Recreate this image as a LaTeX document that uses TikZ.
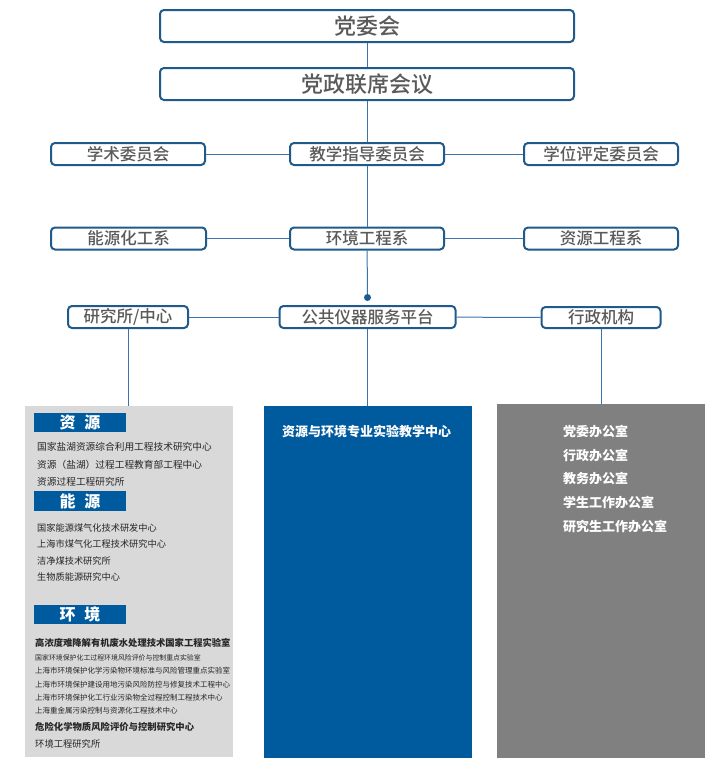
\documentclass[tikz,border=0pt]{standalone}
\usepackage{fontspec}
\setmainfont{Noto Sans CJK SC}
\newfontfamily\boxfont{Noto Sans CJK SC Medium}
\definecolor{boxline}{HTML}{1F5A8A}
\definecolor{connc}{HTML}{3A74AD}
\definecolor{boxtext}{HTML}{5A5A5A}
\definecolor{pblue}{HTML}{005A9E}
\definecolor{plgrey}{HTML}{D9D9D9}
\definecolor{pdgrey}{HTML}{808080}
\definecolor{itemtext}{HTML}{262626}
\begin{document}
\begin{tikzpicture}[x=1pt,y=-1pt,
  orgbox/.style={draw=boxline, line width=2pt, rounded corners=4pt, fill=white,
    text=boxtext, inner sep=0pt, minimum height=22pt,
    font=\boxfont\fontsize{16.5}{18}\selectfont},
  bigbox/.style={orgbox, minimum width=414pt, minimum height=32pt,
    font=\boxfont\fontsize{22}{24}\selectfont},
  conn/.style={draw=connc, line width=1pt},
  panel/.style={inner sep=0pt, anchor=north west},
  hdr/.style={fill=pblue, text=white, inner sep=0pt, minimum width=92pt,
    minimum height=19.5pt, font=\fontsize{16}{18}\selectfont\bfseries},
  item/.style={anchor=west, inner sep=0pt, text=itemtext},
  wtext/.style={anchor=west, inner sep=0pt, text=white,
    font=\fontsize{13}{15}\selectfont\bfseries}
]
\useasboundingbox (0,0) rectangle (724,771);

% top boxes
\node[bigbox] (dw) at (367,26) {党委会};
\node[bigbox] (dz) at (367,84) {党政联席会议};

% committee row
\node[orgbox, minimum width=154pt] (xs) at (128,154) {学术委员会};
\node[orgbox, minimum width=154pt] (jx) at (367,154) {教学指导委员会};
\node[orgbox, minimum width=154pt] (xw) at (601,154) {学位评定委员会};

% department row
\node[orgbox, minimum width=155pt] (nh) at (128.5,238.5) {能源化工系};
\node[orgbox, minimum width=154pt] (hj) at (367,238.5) {环境工程系};
\node[orgbox, minimum width=154pt] (zy) at (601,238.5) {资源工程系};

% platform row
\node[circle, fill=boxline, inner sep=0pt, minimum size=7pt] (dot) at (367.5,297.5) {};
\node[orgbox, minimum width=120pt] (ys) at (128,317) {研究所/中心};
\node[orgbox, minimum width=176pt] (gg) at (367.5,317) {公共仪器服务平台};
\node[orgbox, minimum width=119pt, minimum height=21pt] (xz) at (601,317.5) {行政机构};

% panels
\node[panel, fill=plgrey, minimum width=208pt, minimum height=351pt] (pg) at (25,406) {};
\node[panel, fill=pblue, minimum width=208pt, minimum height=352pt] (pb) at (264,406) {};
\node[panel, fill=pdgrey, minimum width=208pt, minimum height=354pt] (pd) at (497,404) {};

% connectors
\draw[conn] (dw) -- (dz);
\draw[conn] (dz) -- (jx);
\draw[conn] (xs) -- (jx);
\draw[conn] (jx) -- (xw);
\draw[conn] (jx) -- (hj);
\draw[conn] (nh) -- (hj);
\draw[conn] (hj) -- (zy);
\draw[conn] (hj) -- (dot);
\draw[conn] (ys) -- (gg);
\draw[conn] (gg) -- (xz);
\draw[conn] (ys) -- (ys |- pg.north);
\draw[conn] (gg) -- (gg |- pb.north);
\draw[conn] (xz) -- (xz |- pd.north);

% light grey panel content
\node[hdr] (h1) at (80,422.5) {资\hspace{9pt}源};
\node[item, font=\fontsize{9.7}{11}\selectfont] (a1) at (37,446.5) {国家盐湖资源综合利用工程技术研究中心};
\node[item, font=\fontsize{9.7}{11}\selectfont] (a2) at (37,464.5) {资源（盐湖）过程工程教育部工程中心};
\node[item, font=\fontsize{9.7}{11}\selectfont] (a3) at (37,482) {资源过程工程研究所};

\node[hdr] (h2) at (80,501) {能\hspace{9pt}源};
\node[item, font=\fontsize{9.2}{11}\selectfont] (b1) at (37,527.5) {国家能源煤气化技术研发中心};
\node[item, font=\fontsize{9.2}{11}\selectfont] (b2) at (37,544) {上海市煤气化工程技术研究中心};
\node[item, font=\fontsize{9.2}{11}\selectfont] (b3) at (37,561) {洁净煤技术研究所};
\node[item, font=\fontsize{9.2}{11}\selectfont] (b4) at (37,577) {生物质能源研究中心};

\node[hdr] (h3) at (80,614.5) {环\hspace{9pt}境};
\node[item, font=\fontsize{9.3}{11}\selectfont\bfseries] (c1) at (35,642.5) {高浓度难降解有机废水处理技术国家工程实验室};
\node[item, font=\fontsize{6.9}{8}\selectfont] (c2) at (35,657.5) {国家环境保护化工过程环境风险评价与控制重点实验室};
\node[item, font=\fontsize{7.5}{8}\selectfont] (c3) at (35,671) {上海市环境保护化学污染物环境标准与风险管理重点实验室};
\node[item, font=\fontsize{7.5}{8}\selectfont] (c4) at (35,684.5) {上海市环境保护建设用地污染风险防控与修复技术工程中心};
\node[item, font=\fontsize{7.5}{8}\selectfont] (c5) at (35,698) {上海市环境保护化工行业污染物全过程控制工程技术中心};
\node[item, font=\fontsize{7.5}{8}\selectfont] (c6) at (35,711) {上海重金属污染控制与资源化工程技术中心};
\node[item, font=\fontsize{9.35}{11}\selectfont\bfseries] (c7) at (35,727) {危险化学物质风险评价与控制研究中心};
\node[item, font=\fontsize{9.3}{11}\selectfont] (c8) at (35,744) {环境工程研究所};

% blue panel content
\node[wtext] (e1) at (282,432) {资源与环境专业实验教学中心};

% dark grey panel content
\node[wtext] (f1) at (563,432) {党委办公室};
\node[wtext] (f2) at (563,455.5) {行政办公室};
\node[wtext] (f3) at (563,479) {教务办公室};
\node[wtext] (f4) at (563,503) {学生工作办公室};
\node[wtext] (f5) at (563,526.5) {研究生工作办公室};
\end{tikzpicture}
\end{document}
